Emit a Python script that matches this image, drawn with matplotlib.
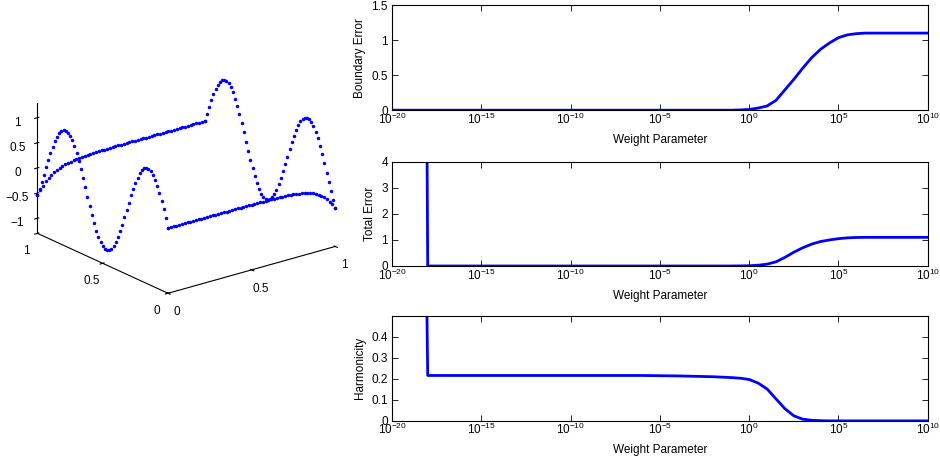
import numpy as np
import matplotlib
matplotlib.use('Agg')
import matplotlib.pyplot as plt
from mpl_toolkits.mplot3d import Axes3D

plt.rcParams['font.family'] = ['Liberation Sans', 'DejaVu Sans']
plt.rcParams['mathtext.fontset'] = 'custom'
plt.rcParams['mathtext.rm'] = 'Liberation Sans'
plt.rcParams['mathtext.it'] = 'Liberation Sans:italic'
plt.rcParams['axes.unicode_minus'] = True

# ---- boundary values of the surface (dots), 61 per edge ----
# edge x=0, y going 0 -> 1  (and edge x=1, y going 1 -> 0, same shape)
edge_wave = [0.00, 0.17, 0.33, 0.48, 0.62, 0.74, 0.84, 0.92, 0.97, 1.00,
             0.99, 0.97, 0.91, 0.83, 0.72, 0.60, 0.46, 0.31, 0.14, -0.03,
             -0.19, -0.35, -0.50, -0.64, -0.76, -0.86, -0.93, -0.98, -1.00, -0.99,
             -0.96, -0.90, -0.81, -0.71, -0.58, -0.44, -0.28, -0.12, 0.05, 0.22,
             0.37, 0.52, 0.66, 0.77, 0.87, 0.94, 0.98, 1.00, 0.99, 0.95,
             0.89, 0.80, 0.69, 0.56, 0.41, 0.26, 0.09, -0.08, -0.24, -0.39,
             -0.54]
# edge y=1, x going 0 -> 1  (edge y=0 is the mirror image)
edge_flat = [-0.54, -0.45, -0.38, -0.31, -0.26, -0.22, -0.18, -0.15, -0.12, -0.10,
             -0.085, -0.07, -0.06, -0.05, -0.04, -0.034, -0.028, -0.023, -0.019, -0.016,
             -0.013, -0.011, -0.009, -0.008, -0.007, -0.006, -0.005, -0.004, -0.004, -0.003,
             -0.003, -0.002, -0.002, -0.002, -0.001, -0.001, -0.001, -0.001, 0.0, 0.0,
             0.0, 0.0, 0.0, 0.0, 0.0, 0.0, 0.0, 0.0, 0.0, 0.0,
             0.0, 0.0, 0.0, 0.0, 0.0, 0.0, 0.0, 0.0, 0.0, 0.0,
             0.0]

# ---- weight sweep ----
log_w = [-20, -19, -18.1, -18, -17, -16, -15, -14, -13, -12, -11, -10, -9, -8, -7, -6,
         -5, -4, -3, -2, -1, -0.5, 0, 0.5, 1, 1.5, 2, 2.5, 3, 3.5, 4, 4.5, 5, 5.5,
         6, 6.5, 7, 7.5, 8, 8.5, 9, 9.5, 10]
boundary_err = [0, 0, 0, 0, 0, 0, 0, 0, 0, 0, 0, 0, 0, 0, 0, 0,
                0, 0, 0, 0, 0.0, 0.004, 0.01, 0.03, 0.06, 0.14, 0.29, 0.44, 0.60, 0.75,
                0.87, 0.96, 1.035, 1.075, 1.092, 1.1, 1.1, 1.1, 1.1, 1.1, 1.1, 1.1, 1.1]
total_err = [100, 40, 12, 0, 0, 0, 0, 0, 0, 0, 0, 0, 0, 0, 0, 0,
             0, 0, 0, 0, 0.0, 0.004, 0.01, 0.03, 0.07, 0.16, 0.33, 0.53, 0.70, 0.84,
             0.94, 1.0, 1.05, 1.08, 1.095, 1.1, 1.1, 1.1, 1.1, 1.1, 1.1, 1.1, 1.1]
harmonicity = [5, 2, 0.9, 0.216, 0.216, 0.216, 0.216, 0.216, 0.216, 0.216, 0.216, 0.216,
               0.216, 0.216, 0.216, 0.216, 0.215, 0.214, 0.212, 0.21, 0.206, 0.203, 0.197,
               0.18, 0.152, 0.105, 0.058, 0.024, 0.008, 0.003, 0.001, 0.0, 0.0, 0.0,
               0.0, 0.0, 0.0, 0.0, 0.0, 0.0, 0.0, 0.0, 0.0]

w = 10.0 ** np.array(log_w)
blue = (0, 0, 1)
fs = 8.5

fig = plt.figure(figsize=(9.4, 4.61), dpi=100)

# ---- 3D boundary plot ----
ax3 = fig.add_axes([0.0226, 0.253, 0.342, 0.718], projection='3d')
t = np.linspace(0, 1, len(edge_wave))
wave = np.array(edge_wave)
flat = np.array(edge_flat)
xs = np.concatenate([np.zeros_like(t), t, np.ones_like(t), t])
ys = np.concatenate([t, np.ones_like(t), 1 - t, np.zeros_like(t)])
zs = np.concatenate([wave, flat, wave, flat[::-1]])
ax3.plot(xs, ys, zs, '.', color=blue, markersize=3)
ax3.set_proj_type('ortho')
ax3.view_init(elev=21, azim=-128)
ax3.set_box_aspect((1, 1, 0.66))
ax3.set_xlim(0, 1)
ax3.set_ylim(0, 1)
ax3.set_zlim(-1.3, 1.3)
ax3.set_xticks([0, 0.5, 1])
ax3.set_yticks([0, 0.5, 1])
ax3.set_zticks([-1, -0.5, 0, 0.5, 1])
ax3.set_xticklabels(['0', '0.5', '1'])
ax3.set_yticklabels(['0', '0.5', '1'])
ax3.set_zticklabels(['\u22121', '\u22120.5', '0', '0.5', '1'])
ax3.grid(False)
for axis in (ax3.xaxis, ax3.yaxis, ax3.zaxis):
    axis.pane.set_visible(False)
    axis.line.set_color('k')
    axis.line.set_linewidth(0.8)
ax3.tick_params(labelsize=fs, pad=0)

# ---- sweep plots ----
panels = [
    (boundary_err, 'Boundary Error', [0.417, 0.761, 0.570, 0.228], (0, 1.5), [0, 0.5, 1, 1.5], ['0', '0.5', '1', '1.5']),
    (total_err, 'Total Error', [0.417, 0.423, 0.570, 0.226], (0, 4), [0, 1, 2, 3, 4], ['0', '1', '2', '3', '4']),
    (harmonicity, 'Harmonicity', [0.417, 0.087, 0.570, 0.228], (0, 0.5), [0, 0.1, 0.2, 0.3, 0.4], ['0', '0.1', '0.2', '0.3', '0.4']),
]
for vals, name, pos, ylim, yt, ytl in panels:
    ax = fig.add_axes(pos)
    ax.semilogx(w, vals, color=blue, linewidth=2)
    ax.set_xlim(1e-20, 1e10)
    ax.set_ylim(*ylim)
    ax.set_xticks([1e-20, 1e-15, 1e-10, 1e-5, 1e0, 1e5, 1e10])
    ax.set_xticklabels([r'$10^{-20}$', r'$10^{-15}$', r'$10^{-10}$', r'$10^{-5}$',
                        r'$10^{0}$', r'$10^{5}$', r'$10^{10}$'])
    ax.xaxis.set_minor_locator(matplotlib.ticker.NullLocator())
    ax.set_yticks(yt)
    ax.set_yticklabels(ytl)
    ax.tick_params(direction='in', length=4, width=0.6, top=True, right=True, labelsize=fs)
    ax.tick_params(axis='x', pad=1)
    ax.tick_params(axis='y', pad=3)
    ax.set_xlabel('Weight Parameter', fontsize=fs, labelpad=5)
    ax.set_ylabel(name, fontsize=fs, labelpad=4)
    for s in ax.spines.values():
        s.set_linewidth(0.8)

fig.savefig('out.png', dpi=100)
